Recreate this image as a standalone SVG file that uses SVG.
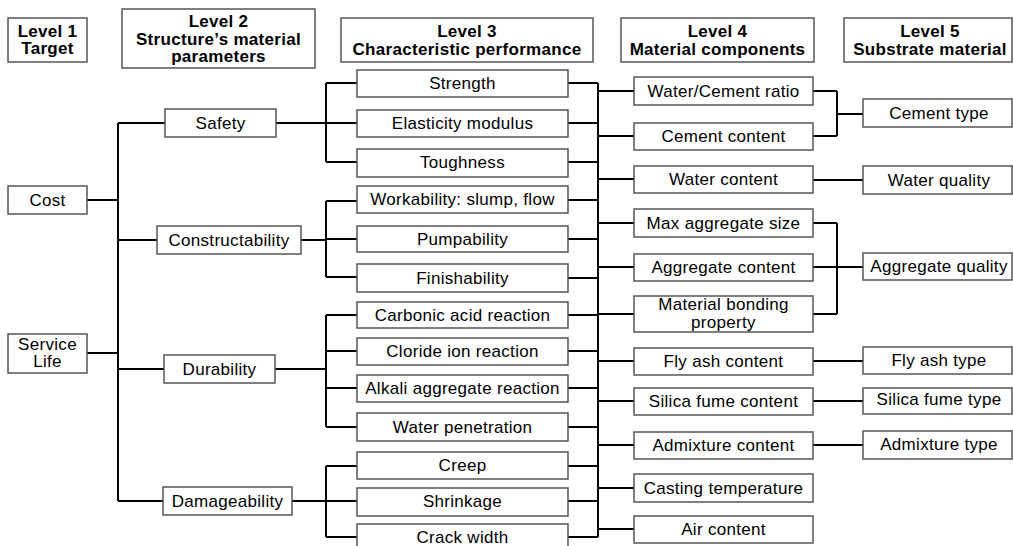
<svg xmlns="http://www.w3.org/2000/svg" width="1013" height="546" viewBox="0 0 1013 546">
<style>
rect{fill:#fff;stroke:#555;stroke-width:1.5}
text{font-family:"Liberation Sans",Arial,sans-serif;font-size:17px;letter-spacing:0.3px;fill:#000;text-anchor:middle}
.h text{font-weight:bold}
#connectors path{fill:none;stroke:#000;stroke-width:2}
</style>
<rect x="0" y="0" width="1013" height="546" style="fill:#fff;stroke:none"/>
<g id="connectors">
<path d="M87 200H118M87 353H118M118 123V501M118 123H165M118 240H157M118 369H164M118 501H163"/>
<path d="M276 123H326M326 83V162M326 83H357M326 123H357M326 162H357"/>
<path d="M301 240H326M326 201V277M326 201H357M326 239H357M326 277H357"/>
<path d="M275 369H326M326 315V427M326 315H357M326 351H357M326 388H357M326 427H357"/>
<path d="M292 501H326M326 466V537M326 466H357M326 501H357M326 537H357"/>
<path d="M568 83H598M568 123H598M568 162H598M568 200H598M568 239H598M568 278H598M568 315H598M568 351H598M568 388H598M568 427H598M568 466H598M568 501H598M568 537H598M598 83V537"/>
<path d="M598 91H634M598 136H634M598 179H634M598 223H634M598 267H634M598 314H634M598 361H634M598 401H634M598 445H634M598 488H634M598 529H634"/>
<path d="M813 91H837M813 136H837M837 91V136M837 114H863"/>
<path d="M813 180H863"/>
<path d="M813 223H837M813 314H837M837 223V314M813 267H863"/>
<path d="M813 361H863M813 401H863M813 445H863"/>
</g>
<g class="h">
<g id="h1"><rect x="8" y="18" width="79" height="44"/><text x="47.5" y="37">Level 1</text><text x="47.5" y="54">Target</text></g>
<g id="h2"><rect x="122" y="9" width="193" height="59"/><text x="218.5" y="27">Level 2</text><text x="218.5" y="45">Structure’s material</text><text x="218.5" y="62">parameters</text></g>
<g id="h3"><rect x="341" y="18" width="252" height="44"/><text x="467" y="37">Level 3</text><text x="467" y="55">Characteristic performance</text></g>
<g id="h4"><rect x="621" y="18" width="193" height="44"/><text x="717.5" y="37">Level 4</text><text x="717.5" y="55">Material components</text></g>
<g id="h5"><rect x="844" y="18" width="168" height="44"/><text x="930" y="37">Level 5</text><text x="930" y="55">Substrate material</text></g>
</g>
<g id="cost"><rect x="8" y="186" width="79" height="28"/><text x="47.5" y="206">Cost</text></g>
<g id="service-life"><rect x="8" y="334" width="79" height="39"/><text x="47.5" y="350">Service</text><text x="47.5" y="367">Life</text></g>
<g id="safety"><rect x="165" y="109" width="111" height="28"/><text x="220.5" y="129">Safety</text></g>
<g id="constructability"><rect x="157" y="226" width="144" height="28"/><text x="229" y="246">Constructability</text></g>
<g id="durability"><rect x="164" y="355" width="111" height="28"/><text x="219.5" y="375">Durability</text></g>
<g id="damageability"><rect x="163" y="487" width="129" height="28"/><text x="227.5" y="507">Damageability</text></g>
<g id="strength"><rect x="357" y="70" width="211" height="27"/><text x="462.5" y="89">Strength</text></g>
<g id="elasticity"><rect x="357" y="110" width="211" height="27"/><text x="462.5" y="129">Elasticity modulus</text></g>
<g id="toughness"><rect x="357" y="149" width="211" height="28"/><text x="462.5" y="168">Toughness</text></g>
<g id="workability"><rect x="357" y="186" width="211" height="27"/><text x="462.5" y="205">Workability: slump, flow</text></g>
<g id="pumpability"><rect x="357" y="226" width="211" height="26"/><text x="462.5" y="245">Pumpability</text></g>
<g id="finishability"><rect x="357" y="264" width="211" height="28"/><text x="462.5" y="284">Finishability</text></g>
<g id="carbonic"><rect x="357" y="302" width="211" height="26"/><text x="462.5" y="321">Carbonic acid reaction</text></g>
<g id="cloride"><rect x="357" y="338" width="211" height="27"/><text x="462.5" y="357">Cloride ion reaction</text></g>
<g id="alkali"><rect x="357" y="375" width="211" height="27"/><text x="462.5" y="394">Alkali aggregate reaction</text></g>
<g id="water-pen"><rect x="357" y="413" width="211" height="28"/><text x="462.5" y="433">Water penetration</text></g>
<g id="creep"><rect x="357" y="452" width="211" height="27"/><text x="462.5" y="471">Creep</text></g>
<g id="shrinkage"><rect x="357" y="488" width="211" height="28"/><text x="462.5" y="507">Shrinkage</text></g>
<g id="crack"><rect x="357" y="524" width="211" height="28"/><text x="462.5" y="543">Crack width</text></g>
<g id="wc-ratio"><rect x="634" y="77" width="179" height="28"/><text x="723.5" y="97">Water/Cement ratio</text></g>
<g id="cement-content"><rect x="634" y="123" width="179" height="27"/><text x="723.5" y="142">Cement content</text></g>
<g id="water-content"><rect x="634" y="166" width="179" height="27"/><text x="723.5" y="185">Water content</text></g>
<g id="max-agg"><rect x="634" y="209" width="179" height="28"/><text x="723.5" y="229">Max aggregate size</text></g>
<g id="agg-content"><rect x="634" y="254" width="179" height="27"/><text x="723.5" y="273">Aggregate content</text></g>
<g id="bonding"><rect x="634" y="296" width="179" height="36"/><text x="723.5" y="310">Material bonding</text><text x="723.5" y="328">property</text></g>
<g id="flyash-content"><rect x="634" y="348" width="179" height="27"/><text x="723.5" y="367">Fly ash content</text></g>
<g id="silica-content"><rect x="634" y="388" width="179" height="27"/><text x="723.5" y="407">Silica fume content</text></g>
<g id="admix-content"><rect x="634" y="432" width="179" height="27"/><text x="723.5" y="451">Admixture content</text></g>
<g id="casting"><rect x="634" y="474" width="179" height="28"/><text x="723.5" y="494">Casting temperature</text></g>
<g id="air"><rect x="634" y="516" width="179" height="27"/><text x="723.5" y="535">Air content</text></g>
<g id="cement-type"><rect x="863" y="99" width="149" height="28"/><text x="939" y="119">Cement type</text></g>
<g id="water-quality"><rect x="863" y="166" width="149" height="28"/><text x="939" y="186">Water quality</text></g>
<g id="agg-quality"><rect x="863" y="253" width="149" height="27"/><text x="939" y="272">Aggregate quality</text></g>
<g id="flyash-type"><rect x="863" y="347" width="149" height="27"/><text x="939" y="366">Fly ash type</text></g>
<g id="silica-type"><rect x="863" y="388" width="149" height="26"/><text x="939" y="405">Silica fume type</text></g>
<g id="admix-type"><rect x="863" y="431" width="149" height="28"/><text x="939" y="450">Admixture type</text></g>
</svg>
